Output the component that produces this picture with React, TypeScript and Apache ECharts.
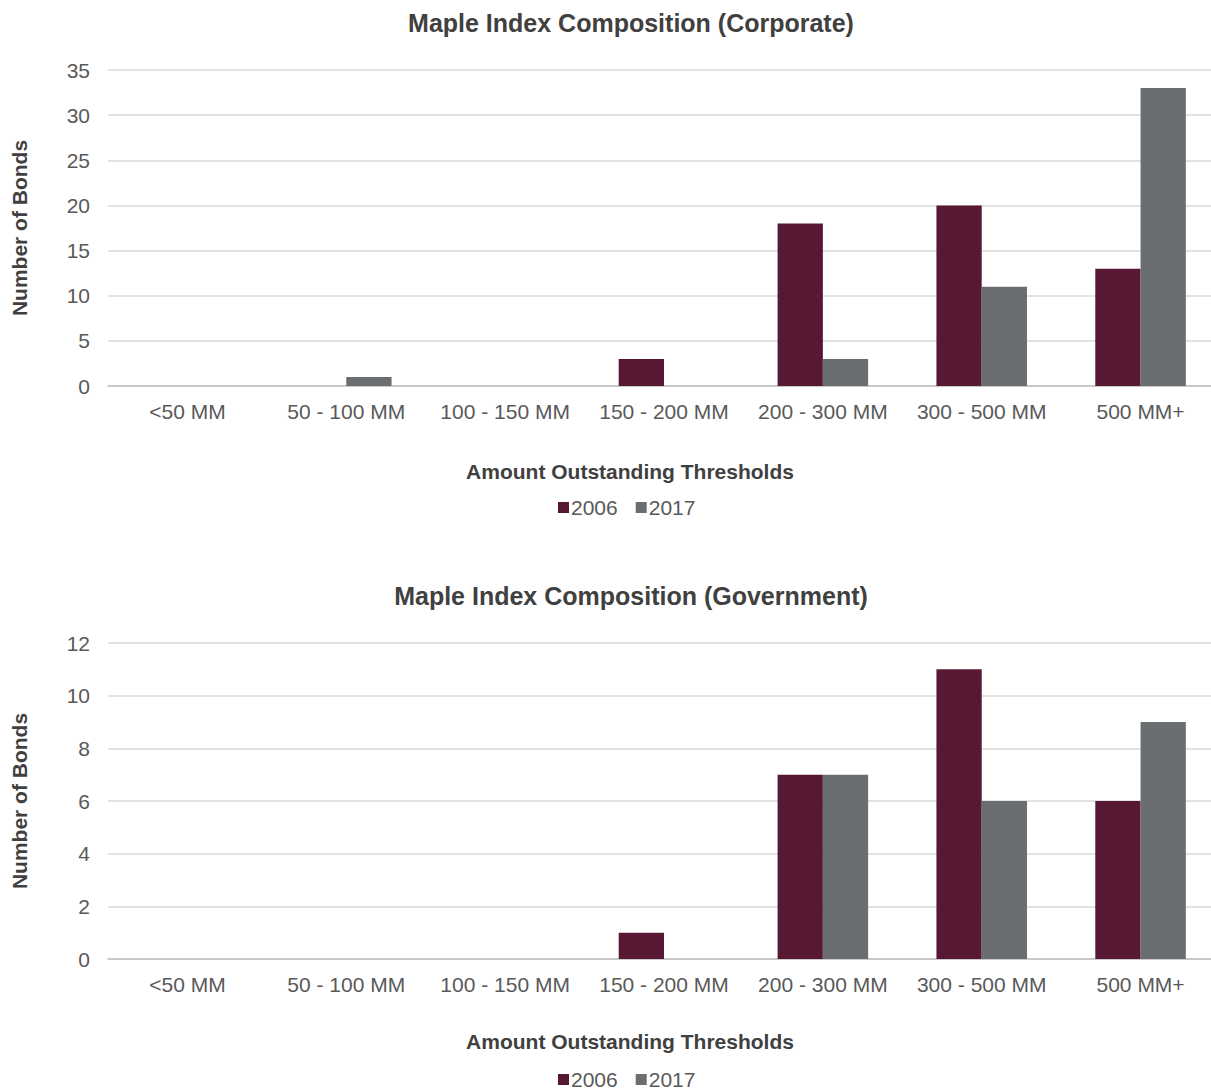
import React, { useEffect, useRef } from "react";
import * as echarts from "echarts";

const categories = ["<50 MM", "50 - 100 MM", "100 - 150 MM", "150 - 200 MM", "200 - 300 MM", "300 - 500 MM", "500 MM+"];
const corporate2006 = [0, 0, 0, 3, 18, 20, 13];
const corporate2017 = [0, 1, 0, 0, 3, 11, 33];
const government2006 = [0, 0, 0, 1, 7, 11, 6];
const government2017 = [0, 0, 0, 0, 7, 6, 9];
const seriesNames = ["2006", "2017"];

const MAROON = "#561832";
const GREY = "#6b6e71";
const FONT = "'Liberation Sans', Arial, sans-serif";

export default function App() {
  const ref = useRef<HTMLDivElement>(null);

  useEffect(() => {
    if (!ref.current) return;
    const chart = echarts.init(ref.current, undefined, { renderer: "svg" });

    const panels = [
      { title: "Maple Index Composition (Corporate)", top: 70, max: 35, interval: 5, a: corporate2006, b: corporate2017, titleY: 23, axisNameY: 471, legendY: 508 },
      { title: "Maple Index Composition (Government)", top: 643, max: 12, interval: 2, a: government2006, b: government2017, titleY: 596, axisNameY: 1041, legendY: 1080 },
    ];

    const xAxis = panels.map((p, i) => ({
      type: "category",
      gridIndex: i,
      data: categories,
      axisTick: { show: false },
      axisLine: { lineStyle: { color: "#bfbfbf", width: 1.5 } },
      axisLabel: { color: "#595959", fontSize: 21, fontFamily: FONT, margin: 15, interval: 0 },
    }));

    const yAxis = panels.map((p, i) => ({
      type: "value",
      gridIndex: i,
      min: 0,
      max: p.max,
      interval: p.interval,
      axisLine: { show: false },
      axisTick: { show: false },
      splitLine: { lineStyle: { color: "#d9d9d9", width: 1.5 } },
      axisLabel: { color: "#595959", fontSize: 21, fontFamily: FONT, margin: 18 },
      name: "Number of Bonds",
      nameLocation: "middle",
      nameGap: 78,
      nameRotate: 90,
      nameTextStyle: { color: "#404040", fontSize: 21, fontWeight: "bold", fontFamily: FONT },
    }));

    const series: any[] = [];
    panels.forEach((p, i) => {
      series.push({
        name: seriesNames[0],
        type: "bar",
        xAxisIndex: i,
        yAxisIndex: i,
        data: p.a,
        itemStyle: { color: MAROON },
        barGap: "0%",
        barCategoryGap: "43%",
      });
      series.push({
        name: seriesNames[1],
        type: "bar",
        xAxisIndex: i,
        yAxisIndex: i,
        data: p.b,
        itemStyle: { color: GREY },
        barGap: "0%",
        barCategoryGap: "43%",
      });
    });

    const headings: any[] = [];
    panels.forEach((p) => {
      headings.push({
        type: "text",
        x: 631,
        y: p.titleY,
        style: {
          text: p.title,
          fill: "#404040",
          font: `bold 25px ${FONT}`,
          textAlign: "center",
          textVerticalAlign: "middle",
        },
      });
      headings.push({
        type: "text",
        x: 630,
        y: p.axisNameY,
        style: {
          text: "Amount Outstanding Thresholds",
          fill: "#404040",
          font: `bold 21px ${FONT}`,
          textAlign: "center",
          textVerticalAlign: "middle",
        },
      });
    });

    chart.setOption({
      animation: false,
      textStyle: { fontFamily: FONT },
      graphic: headings,
      legend: panels.map((p) => ({
        data: seriesNames,
        left: 553,
        top: p.legendY - 16,
        itemWidth: 11,
        itemHeight: 11,
        itemGap: 18,
        icon: "rect",
        textStyle: { color: "#595959", fontSize: 21, fontFamily: FONT, padding: [0, 0, 0, -3] },
        selectedMode: false,
      })),
      grid: panels.map((p) => ({ left: 108, width: 1112, top: p.top, height: 316, containLabel: false })),
      xAxis,
      yAxis,
      series,
    });

    return () => chart.dispose();
  }, []);

  return (
    <div style={{ position: "absolute", left: 0, top: 0, width: 1211, height: 1092, overflow: "hidden" }}>
      <div ref={ref} style={{ width: 1220, height: 1092 }} />
    </div>
  );
}
